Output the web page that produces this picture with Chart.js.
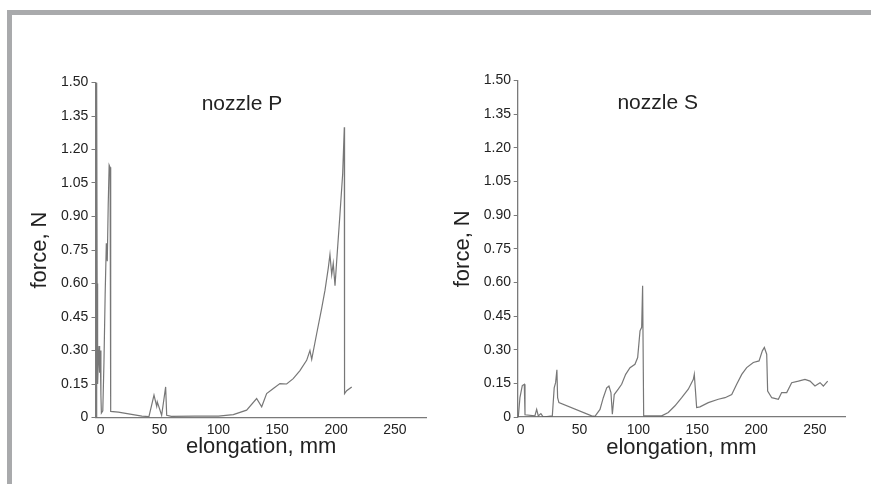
<!DOCTYPE html>
<html>
<head>
<meta charset="utf-8">
<script src="https://cdn.jsdelivr.net/npm/chart.js@4.4.1/dist/chart.umd.min.js"></script>
<style>
  html, body { margin: 0; padding: 0; background: #fff; overflow: hidden; }
  body { width: 871px; height: 484px; position: relative; }
  .frame { position: absolute; background: #a9aaac; }
  canvas { position: absolute; top: 0; }
</style>
</head>
<body>
<div class="frame" style="left:7px;top:10px;width:864px;height:5px"></div>
<div class="frame" style="left:7px;top:10px;width:5px;height:474px"></div>
<canvas id="chart-p" width="435" height="484" style="left:0"></canvas>
<canvas id="chart-s" width="436" height="484" style="left:435px"></canvas>
<script>
/* tick labels */
const xTicks = [0, 50, 100, 150, 200, 250];
const yTicks = [0, 0.15, 0.30, 0.45, 0.60, 0.75, 0.90, 1.05, 1.20, 1.35, 1.50];

/* nozzle P: elongation (mm) / force (N) */
const pElong = [-3.6, -3.4, -3.0, -2.6, -2.0, -1.4, -0.9, -0.4, 0.2, 0.6, 1.8, 2.8, 3.8, 4.8, 5.6, 6.4, 7.2, 8.0, 8.5,
  15, 25, 35, 41, 45.3, 47.6, 48.1, 51.8, 55.2, 56.1, 60, 80, 100, 112.7, 124.0, 132.5, 136.8, 141.0, 146.7,
  152.3, 158.0, 163.6, 169.3, 175.0, 177.8, 179.3, 183.5, 187.8, 190.6, 193.4, 194.8, 196.3, 197.6, 199.1,
  200.5, 203.3, 205.6, 207.0, 207.2, 209.0, 213.3];
const pForce = [0, 1.50, 0.60, 0.15, 0.25, 0.32, 0.20, 0.30, 0.10, 0.02, 0.03, 0.25, 0.55, 0.78, 0.70, 0.95, 1.13, 1.12, 0.027,
  0.024, 0.015, 0.006, 0.004, 0.10, 0.05, 0.07, 0.01, 0.137, 0.01, 0.005, 0.006, 0.006, 0.013, 0.033, 0.085, 0.048, 0.107, 0.13,
  0.152, 0.15, 0.174, 0.21, 0.256, 0.30, 0.26, 0.375, 0.49, 0.57, 0.67, 0.73, 0.64, 0.69, 0.59,
  0.70, 0.91, 1.09, 1.30, 0.107, 0.12, 0.137];

/* nozzle S */
const sElong = [-2.0, -0.6, 1.4, 3.1, 3.7, 12.1, 13.6, 15.0, 17.2, 19.2, 26.9, 28.5, 29.7, 30.8, 31.4, 32.5,
  60.3, 63.1, 67.4, 70.2, 73.1, 75.0, 76.7, 77.9, 79.5, 82.9, 85.8, 89.2, 92.9, 97.1, 99.4, 101.4, 102.8, 103.6, 104.5,
  119.8, 125.4, 131.1, 136.8, 142.4, 146.7, 147.5, 149.5, 152.3, 159.4, 167.9, 173.6, 179.3, 183.5, 187.8, 192.0,
  197.6, 202.5, 205.3, 207.0, 209.0, 209.8, 213.3, 218.9, 221.7, 226.0, 230.2, 235.9, 241.5, 245.8, 250.0, 254.3, 257.1, 260.8];
const sForce = [0, 0.086, 0.14, 0.146, 0.01, 0.005, 0.034, 0.005, 0.015, 0, 0.005, 0.13, 0.153, 0.21, 0.086, 0.064,
  0.005, 0.003, 0.034, 0.086, 0.13, 0.138, 0.109, 0.012, 0.10, 0.124, 0.146, 0.19, 0.22, 0.235, 0.265, 0.384, 0.40, 0.585, 0.005,
  0.005, 0.02, 0.05, 0.086, 0.124, 0.168, 0.19, 0.042, 0.045, 0.064, 0.079, 0.086, 0.10, 0.146, 0.19, 0.22,
  0.243, 0.25, 0.295, 0.31, 0.28, 0.116, 0.086, 0.079, 0.109, 0.109, 0.153, 0.16, 0.168, 0.16, 0.138, 0.153, 0.138, 0.16];

const FONT = "'Liberation Sans', Arial, Helvetica, sans-serif";
const INK = '#222222';
const AXIS = '#7a7a7a';

// text inside the plot ("nozzle P"), placed in data units
const panelLabel = {
  id: 'panelLabel',
  afterDraw(chart, args, opts) {
    const {ctx, scales} = chart;
    ctx.save();
    ctx.font = '21px ' + FONT;
    ctx.fillStyle = INK;
    ctx.textAlign = 'center';
    ctx.textBaseline = 'middle';
    ctx.fillText(opts.text, scales.x.getPixelForValue(opts.x), scales.y.getPixelForValue(opts.y));
    ctx.restore();
  }
};

function makeChart(id, xs, ys, o) {
  return new Chart(document.getElementById(id), {
    type: 'line',
    data: {
      datasets: [{
        data: xs.map((x, i) => ({x: x, y: ys[i]})),
        borderColor: 'rgba(95,95,95,0.85)',
        borderWidth: 1.2,
        pointRadius: 0,
        tension: 0
      }]
    },
    options: {
      responsive: false,
      animation: false,
      layout: { padding: { left: 0, top: o.top, right: o.right, bottom: 0 } },
      plugins: {
        legend: { display: false },
        tooltip: { enabled: false },
        panelLabel: o.label
      },
      scales: {
        x: {
          type: 'linear',
          min: o.xMin,
          max: o.xMax,
          afterBuildTicks: s => { s.ticks = xTicks.map(v => ({value: v})); },
          afterFit: s => { s.height = o.xHeight; },
          grid: { display: false, drawTicks: false },
          border: { color: AXIS, width: 1.3 },
          ticks: { color: INK, font: { family: FONT, size: 14 }, padding: o.xPad, maxRotation: 0 },
          title: { display: true, text: 'elongation, mm', color: INK,
                   font: { family: FONT, size: 22 }, padding: { top: 0, bottom: o.xTitlePad } }
        },
        y: {
          min: 0,
          max: 1.5,
          afterBuildTicks: s => { s.ticks = yTicks.map(v => ({value: v})); },
          afterFit: s => { s.width = o.yWidth; },
          grid: { drawOnChartArea: false, color: AXIS, tickLength: 4 },
          border: { color: AXIS, width: 1.3 },
          ticks: { color: INK, font: { family: FONT, size: 14 }, padding: o.yPad,
                   callback: v => v === 0 ? '0' : v.toFixed(2) },
          title: { display: true, text: 'force, N', color: INK,
                   font: { family: FONT, size: 22 }, padding: { top: o.yTitlePad, bottom: 0 } }
        }
      }
    },
    plugins: [panelLabel]
  });
}

const chartP = makeChart('chart-p', pElong, pForce, {
  top: 82.5, right: 8.3, xMin: -4.4, xMax: 277, xHeight: 66.5, xPad: 4, xTitlePad: 23.8,
  yWidth: 95.5, yPad: 3.2, yTitlePad: 26.8, label: { text: 'nozzle P', x: 120, y: 1.405 }
});

const chartS = makeChart('chart-s', sElong, sForce, {
  top: 80.5, right: 26, xMin: -2.5, xMax: 275.5, xHeight: 67, xPad: 4.6, xTitlePad: 22.8,
  yWidth: 82.7, yPad: 2.7, yTitlePad: 15.1, label: { text: 'nozzle S', x: 116.4, y: 1.40 }
});
</script>
</body>
</html>
